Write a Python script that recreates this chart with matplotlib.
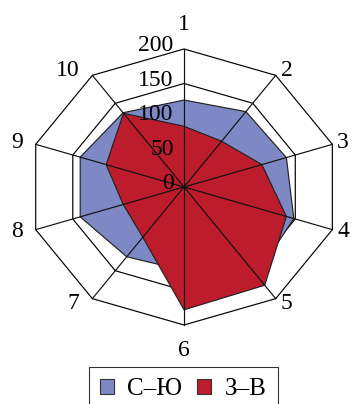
import numpy as np
import matplotlib.pyplot as plt
from matplotlib.patches import Polygon, Patch

# ten directions, radial scale 0..200
categories = ['1', '2', '3', '4', '5', '6', '7', '8', '9', '10']
north_south = [126, 135, 138, 148, 158, 121, 125, 140, 140, 133]
west_east = [88, 82, 105, 138, 176, 178, 90, 82, 105, 132]
ring_levels = [0, 50, 100, 150, 200]
series_names = ['С–Ю', 'З–В']
series_colors = ['#7e88c5', '#bc1c2b']

plt.rcParams['font.family'] = ['Liberation Serif', 'DejaVu Serif']

theta = np.deg2rad(np.arange(len(categories)) * 360.0 / len(categories))
rmax = ring_levels[-1]


def to_xy(r):
    r = np.asarray(r, dtype=float)
    return np.column_stack([r * np.sin(theta), r * np.cos(theta)])


fig = plt.figure(figsize=(3.52, 4.04), dpi=100)
ax = fig.add_axes([0, 0, 1, 1])
ax.set_xlim(-236, 215.4)
ax.set_ylim(-314.5, 271)
ax.axis('off')

# decagon grid rings (behind the fills)
for lev in ring_levels[1:]:
    ax.add_patch(Polygon(to_xy([lev] * len(categories)), closed=True,
                         fill=False, edgecolor='black', lw=0.85, zorder=1))

# filled series
for vals, col, z in zip([north_south, west_east], series_colors, [2, 3]):
    ax.add_patch(Polygon(to_xy(vals), closed=True, facecolor=col,
                         edgecolor='#222222', lw=0.85, zorder=z))

# spokes on top of the fills
corners = to_xy([rmax] * len(categories))
for cx, cy in corners:
    ax.plot([0, cx], [0, cy], color='#111111', lw=0.85, zorder=4)

# radial tick labels along the first spoke
for lev in ring_levels:
    ax.annotate(str(lev), xy=(0, lev), xytext=(-7.5, 2.5),
                textcoords='offset points', ha='right', va='center',
                fontsize=17, zorder=5)

# category labels outside the outer ring
for lab, (cx, cy), t in zip(categories, corners, theta):
    s, c = np.sin(t), np.cos(t)
    if abs(s) < 1e-6:
        off = (0, 10 if c > 0 else -11)
        ha, va = 'center', ('bottom' if c > 0 else 'top')
    elif s > 0:
        off = (3.5, 4.3 * c)
        ha, va = 'left', 'center'
    else:
        off = (-9.5, 4.3 * c)
        ha, va = 'right', 'center'
    ax.annotate(lab, xy=(cx, cy), xytext=off, textcoords='offset points',
                ha=ha, va=va, fontsize=17)

handles = [Patch(facecolor=col, edgecolor='#333333', lw=0.8)
           for col in series_colors]
leg = fig.legend(handles, series_names, loc='upper center',
                 bbox_to_anchor=(0.521, 0.092), ncol=2, fontsize=18,
                 frameon=True, fancybox=False, edgecolor='black',
                 handlelength=0.55, handleheight=0.55, handletextpad=0.55,
                 columnspacing=0.6, borderpad=0.45, borderaxespad=0)
leg.get_frame().set_linewidth(0.8)

fig.savefig('out.png', dpi=100)
